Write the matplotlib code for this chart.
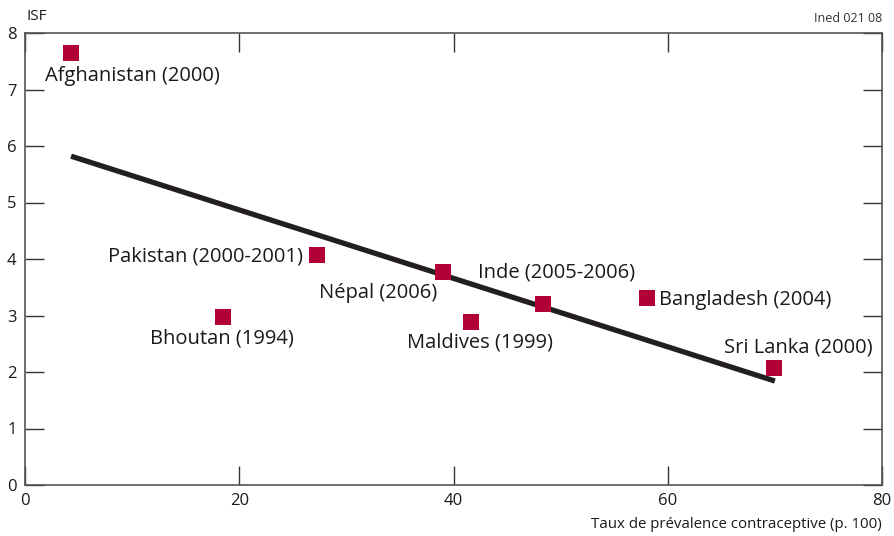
import matplotlib
matplotlib.use("Agg")
import matplotlib.pyplot as plt

countries = ["Afghanistan (2000)", "Pakistan (2000-2001)", "Bhoutan (1994)", "Népal (2006)",
             "Maldives (1999)", "Inde (2005-2006)", "Bangladesh (2004)", "Sri Lanka (2000)"]
prevalence = [4.3, 27.3, 18.5, 39.0, 41.6, 48.4, 58.1, 69.9]
isf = [7.65, 4.07, 2.97, 3.77, 2.88, 3.20, 3.31, 2.07]

trend_x = [4.3, 70.0]
trend_y = [5.82, 1.84]

x_ticks = [0, 20, 40, 60, 80]
y_ticks = [0, 1, 2, 3, 4, 5, 6, 7, 8]

# label placement: (x, y, ha)
label_pos = [(1.87, 7.24, "left"), (25.96, 4.04, "right"), (18.4, 2.59, "center"),
             (38.5, 3.39, "right"), (42.5, 2.52, "center"), (42.3, 3.76, "left"),
             (59.2, 3.28, "left"), (79.1, 2.43, "right")]

font = ["Open Sans", "DejaVu Sans"]
plt.rcParams['font.family'] = font

fig = plt.figure(figsize=(8.94, 5.36), dpi=100)
ax = fig.add_axes([25/894, 1-485/536, (882-25)/894, (485-33)/536])

ax.plot(trend_x, trend_y, color="#231f20", lw=3.8, solid_capstyle="butt", zorder=2)
ax.scatter(prevalence, isf, marker="s", s=120, color="#b10035", linewidths=0, zorder=3)

for name, (lx, ly, ha) in zip(countries, label_pos):
    ax.text(lx, ly, name, ha=ha, va="center", fontsize=14.5, color="#1a1a1a")

ax.set_xlim(0, 80)
ax.set_ylim(0, 8)
ax.set_xticks(x_ticks)
ax.set_yticks(y_ticks)
ax.tick_params(direction="in", length=14, width=1.0, color="#333333",
               top=True, right=True, labelsize=12, labelcolor="#1a1a1a")
ax.tick_params(axis="x", pad=6)
ax.tick_params(axis="y", pad=6)
for s in ax.spines.values():
    s.set_color("#555555")
    s.set_linewidth(1.2)

fig.text(27/894, 1-17/536, "ISF", ha="left", va="center", fontsize=11, color="#1a1a1a")
fig.text(882/894, 1-19/536, "Ined 021 08", ha="right", va="center", fontsize=9, color="#333333")
fig.text(882/894, 1-525/536, "Taux de prévalence contraceptive (p. 100)", ha="right", va="center",
         fontsize=10.8, color="#1a1a1a")

fig.savefig("out.png", dpi=100)
